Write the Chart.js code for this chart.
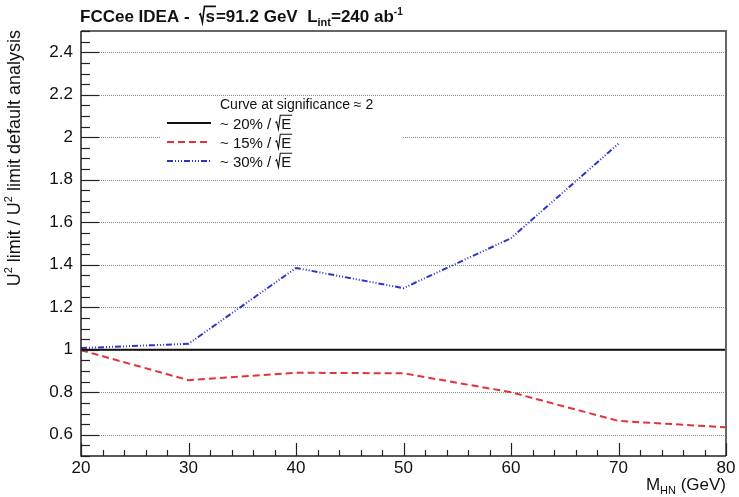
<!DOCTYPE html>
<html>
<head>
<meta charset="utf-8">
<script src="https://cdn.jsdelivr.net/npm/chart.js@4"></script>
<style>
  html, body { margin: 0; padding: 0; background: #fff; }
  canvas { display: block; }
</style>
</head>
<body>
<canvas id="ratioChart" width="739" height="497"></canvas>
<script>
// U^2 limit ratio vs heavy neutral lepton mass, for three energy resolutions
const massPoints = [20, 30, 40, 50, 60, 70, 80];
const ratioRes20 = [1, 1, 1, 1, 1, 1, 1];
const ratioRes15 = [0.998, 0.857, 0.892, 0.889, 0.800, 0.665, 0.635];
const ratioRes30 = [1.008, 1.028, 1.385, 1.290, 1.525, 1.970];

const xTickValues = [20, 30, 40, 50, 60, 70, 80];
const yTickValues = [0.6, 0.8, 1, 1.2, 1.4, 1.6, 1.8, 2, 2.2, 2.4];

const legendHeader = 'Curve at significance \u2248 2';
const legendLabels = ['~ 20% / ', '~ 15% / ', '~ 30% / '];

const FONT = '"Liberation Sans", Arial, Helvetica, sans-serif';
const LINE_COLORS = ['#111111', '#e2333a', '#2a36c8'];
const LINE_DASHES = [[], [7, 4], [6, 2, 1, 2, 1, 2, 1, 2]];

function toPoints(values) {
    return values.map((v, i) => ({ x: massPoints[i], y: v }));
}

function fontStr(size, bold) {
    return (bold ? 'bold ' : '') + size + 'px ' + FONT;
}

// Width of a run of rich text parts: {text, size, bold, dy, sqrt}
function richWidth(ctx, parts) {
    let w = 0;
    parts.forEach(p => {
        ctx.font = fontStr(p.size, p.bold);
        w += ctx.measureText(p.text).width;
        if (p.sqrt) w += p.size * 0.38 + 1;
    });
    return w;
}

// Draw rich text left to right from (x, y) baseline; returns end x
function drawRich(ctx, x, y, parts) {
    ctx.textAlign = 'left';
    ctx.textBaseline = 'alphabetic';
    parts.forEach(p => {
        ctx.font = fontStr(p.size, p.bold);
        const by = y + (p.dy || 0);
        const w = ctx.measureText(p.text).width;
        if (p.sqrt) {
            const s = p.size;
            ctx.save();
            ctx.lineWidth = p.bold ? 1.6 : 1.1;
            ctx.strokeStyle = ctx.fillStyle;
            ctx.beginPath();
            ctx.moveTo(x, by - 0.42 * s);
            ctx.lineTo(x + 0.08 * s, by - 0.48 * s);
            ctx.lineTo(x + 0.2 * s, by + 0.02 * s);
            ctx.lineTo(x + 0.32 * s, by - 0.92 * s);
            ctx.lineTo(x + 0.38 * s + w + 1, by - 0.92 * s);
            ctx.stroke();
            ctx.restore();
            x += s * 0.38;
            ctx.fillText(p.text, x, by);
            x += w + 1;
        } else {
            ctx.fillText(p.text, x, by);
            x += w;
        }
    });
    return x;
}

// ROOT-like frame: dotted y grid, inner ticks, titles and legend
const rootStyle = {
    id: 'rootStyle',
    beforeDatasetsDraw(chart) {
        const { ctx, chartArea: a, scales } = chart;
        ctx.save();
        ctx.strokeStyle = '#8a8a8a';
        ctx.lineWidth = 1;
        ctx.setLineDash([1, 1]);
        yTickValues.forEach(v => {
            const py = Math.round(scales.y.getPixelForValue(v)) + 0.5;
            ctx.beginPath();
            ctx.moveTo(a.left, py);
            ctx.lineTo(a.right, py);
            ctx.stroke();
        });
        ctx.restore();
    },
    afterDatasetsDraw(chart) {
        const { ctx } = chart;
        // legend box
        ctx.save();
        ctx.fillStyle = '#ffffff';
        ctx.fillRect(160, 97, 242, 80);
        ctx.fillStyle = '#111';
        ctx.font = fontStr(14, false);
        ctx.textBaseline = 'alphabetic';
        ctx.fillText(legendHeader, 220, 109);
        const rowY = [123, 142, 161];
        legendLabels.forEach((lab, i) => {
            ctx.save();
            ctx.strokeStyle = LINE_COLORS[i];
            ctx.lineWidth = 2;
            ctx.setLineDash(LINE_DASHES[i]);
            ctx.beginPath();
            ctx.moveTo(167, rowY[i]);
            ctx.lineTo(211, rowY[i]);
            ctx.stroke();
            ctx.restore();
            ctx.fillStyle = '#111';
            drawRich(ctx, 220, rowY[i] + 6, [
                { text: lab, size: 15 },
                { text: 'E', size: 15, sqrt: true }
            ]);
        });
        ctx.restore();
    },
    afterDraw(chart) {
        const { ctx, chartArea: a, scales } = chart;
        ctx.save();

        // frame
        ctx.lineWidth = 2;
        ctx.strokeStyle = '#666';
        ctx.beginPath();
        ctx.moveTo(a.left, a.top);
        ctx.lineTo(a.right, a.top);
        ctx.lineTo(a.right, a.bottom);
        ctx.stroke();
        ctx.strokeStyle = '#222';
        ctx.lineWidth = 1.5;
        ctx.beginPath();
        ctx.moveTo(a.left, a.top);
        ctx.lineTo(a.left, a.bottom);
        ctx.lineTo(a.right, a.bottom);
        ctx.stroke();

        // y ticks, major every 0.2, minor every 0.05
        ctx.lineWidth = 1.2;
        for (let k = 0; k <= 40; k++) {
            const v = 0.5 + k * 0.05;
            const py = Math.round(scales.y.getPixelForValue(v)) + 0.5;
            const major = yTickValues.some(t => Math.abs(t - v) < 1e-6);
            ctx.beginPath();
            ctx.moveTo(a.left, py);
            ctx.lineTo(a.left + (major ? 18 : 9), py);
            ctx.stroke();
        }
        // x ticks, major every 10, minor every 2
        for (let m = 20; m <= 80; m += 2) {
            const px = Math.round(scales.x.getPixelForValue(m)) + 0.5;
            const major = m % 10 === 0;
            ctx.beginPath();
            ctx.moveTo(px, a.bottom);
            ctx.lineTo(px, a.bottom - (major ? 13 : 6));
            ctx.stroke();
        }

        ctx.fillStyle = '#111';
        // title
        drawRich(ctx, 80, 22, [
            { text: 'FCCee IDEA -  ', size: 17, bold: true },
            { text: 's', size: 17, bold: true, sqrt: true },
            { text: '=91.2 GeV  L', size: 17, bold: true },
            { text: 'int', size: 11, bold: true, dy: 4 },
            { text: '=240 ab', size: 17, bold: true },
            { text: '-1', size: 10, bold: true, dy: -7 }
        ]);

        // x axis title, right aligned to the frame
        const xTitle = [
            { text: 'M', size: 17 },
            { text: 'HN', size: 11, dy: 4 },
            { text: ' (GeV)', size: 17 }
        ];
        drawRich(ctx, a.right - richWidth(ctx, xTitle), 490, xTitle);

        // y axis title, rotated, right aligned to the top
        const yTitle = [
            { text: 'U', size: 18 },
            { text: '2', size: 11, dy: -8 },
            { text: ' limit / U', size: 18 },
            { text: '2', size: 11, dy: -8 },
            { text: ' limit default analysis', size: 18 }
        ];
        ctx.translate(20, 30);
        ctx.rotate(-Math.PI / 2);
        drawRich(ctx, -richWidth(ctx, yTitle), 0, yTitle);
        ctx.restore();
    }
};

const canvas = document.getElementById('ratioChart');
new Chart(canvas.getContext('2d'), {
    type: 'line',
    data: {
        datasets: [
            {
                label: '~ 20%',
                data: toPoints(ratioRes20),
                borderColor: LINE_COLORS[0],
                borderWidth: 2,
                borderDash: LINE_DASHES[0],
                pointRadius: 0,
                tension: 0
            },
            {
                label: '~ 15%',
                data: toPoints(ratioRes15),
                borderColor: LINE_COLORS[1],
                borderWidth: 2,
                borderDash: LINE_DASHES[1],
                pointRadius: 0,
                tension: 0
            },
            {
                label: '~ 30%',
                data: toPoints(ratioRes30),
                borderColor: LINE_COLORS[2],
                borderWidth: 2,
                borderDash: LINE_DASHES[2],
                pointRadius: 0,
                tension: 0
            }
        ]
    },
    options: {
        responsive: false,
        animation: false,
        layout: { padding: { top: 31, right: 13, left: 0, bottom: 0 } },
        plugins: {
            legend: { display: false },
            tooltip: { enabled: false }
        },
        scales: {
            x: {
                type: 'linear',
                min: 20,
                max: 80,
                afterBuildTicks: s => { s.ticks = xTickValues.map(v => ({ value: v })); },
                afterFit: s => { s.height = 41; },
                grid: { display: false, drawTicks: false },
                border: { display: false },
                ticks: {
                    color: '#111',
                    font: { family: FONT, size: 17 },
                    padding: 2,
                    maxRotation: 0,
                    autoSkip: false
                }
            },
            y: {
                type: 'linear',
                min: 0.5,
                max: 2.5,
                afterBuildTicks: s => { s.ticks = yTickValues.map(v => ({ value: v })); },
                afterFit: s => { s.width = 81; },
                grid: { display: false, drawTicks: false },
                border: { display: false },
                ticks: {
                    color: '#111',
                    font: { family: FONT, size: 17 },
                    padding: 8,
                    autoSkip: false,
                    callback: v => String(Math.round(v * 10) / 10)
                }
            }
        }
    },
    plugins: [rootStyle]
});
</script>
</body>
</html>
